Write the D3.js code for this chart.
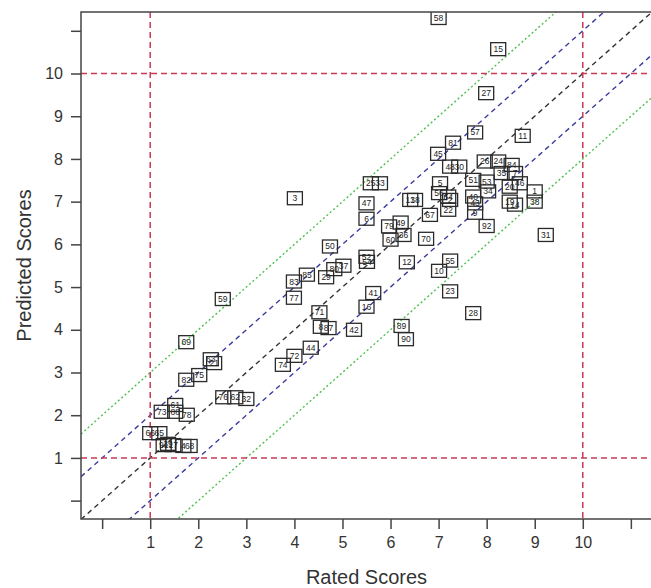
<!DOCTYPE html>
<html>
<head>
<meta charset="utf-8">
<script src="https://cdn.jsdelivr.net/npm/d3@7"></script>
<style>
  body { margin: 0; background: #fff; }
  text { font-family: "Liberation Sans", Arial, sans-serif; }
</style>
</head>
<body>
<svg id="chart"></svg>
<script>
// Labels, rated scores (x) and predicted scores (y).
const labels = [
  "58", "15", "27", "57", "11", "81",
  "45", "48", "30", "5", "56", "64", "2", "22", "67",
  "26", "24", "51", "53", "34", "35", "84", "7", "20", "46",
  "1", "38", "19", "14", "40", "43", "9", "92", "31", "70", "13", "18",
  "3", "25", "33", "47", "6", "79", "49", "36", "60", "50", "52", "54",
  "12", "55", "10", "23", "37", "80", "29", "85", "83", "77", "41", "16",
  "71", "8", "87", "42", "89", "90", "28", "44", "72", "74", "59",
  "69", "63", "21", "75", "82", "76", "62", "32", "73", "61", "88", "78",
  "66", "65", "91", "39", "17", "4", "68"
];
const rated = [
  7.00, 8.24, 7.99, 7.76, 8.75, 7.30,
  6.99, 7.24, 7.43, 7.03, 7.01, 7.20, 7.24, 7.20, 6.82,
  7.96, 8.24, 7.72, 8.00, 8.03, 8.31, 8.52, 8.59, 8.48, 8.69,
  9.00, 9.00, 8.48, 8.59, 7.72, 7.76, 7.76, 8.00, 9.23, 6.74, 6.41, 6.51,
  4.01, 5.59, 5.78, 5.50, 5.50, 5.97, 6.21, 6.27, 6.00, 4.74, 5.50, 5.51,
  6.34, 7.24, 7.01, 7.24, 5.02, 4.83, 4.66, 4.26, 3.99, 3.99, 5.64, 5.50,
  4.52, 4.55, 4.71, 5.24, 6.23, 6.32, 7.72, 4.34, 4.00, 3.76, 2.51,
  1.75, 2.26, 2.33, 2.02, 1.75, 2.52, 2.77, 3.00, 1.24, 1.52, 1.52, 1.76,
  1.00, 1.19, 1.28, 1.37, 1.48, 1.69, 1.82
];
const predicted = [
  11.30, 10.57, 9.54, 8.62, 8.54, 8.38,
  8.12, 7.82, 7.82, 7.43, 7.20, 7.12, 7.04, 6.81, 6.69,
  7.94, 7.94, 7.51, 7.47, 7.24, 7.67, 7.86, 7.67, 7.35, 7.43,
  7.24, 7.00, 7.00, 6.93, 7.12, 6.96, 6.74, 6.43, 6.22, 6.13, 7.04, 7.04,
  7.08, 7.43, 7.43, 6.96, 6.60, 6.42, 6.51, 6.22, 6.11, 5.95, 5.71, 5.59,
  5.58, 5.62, 5.38, 4.90, 5.50, 5.42, 5.23, 5.29, 5.13, 4.75, 4.86, 4.54,
  4.41, 4.07, 4.04, 4.00, 4.09, 3.78, 4.39, 3.58, 3.39, 3.18, 4.72,
  3.71, 3.31, 3.22, 2.94, 2.83, 2.42, 2.42, 2.38, 2.08, 2.24, 2.08, 2.01,
  1.58, 1.58, 1.30, 1.33, 1.30, 1.28, 1.28
];

const tickValues = d3.range(0, 12);
const tickLabels = ["", "1", "2", "3", "4", "5", "6", "7", "8", "9", "10", ""];
const cutoffs = [1, 10];
// offsets of the diagonal bands: y = x + offset
const bandOffsets = [0, -1, 1, -2, 2];
const bandColors = ["#333333", "#3b3b9e", "#3b3b9e", "#4cc24c", "#4cc24c"];

const width = 651;
const height = 588;
const pLeft = 81, pRight = 652, pTop = 12, pBottom = 519;

const svg = d3.select("#chart")
  .attr("width", width)
  .attr("height", height);

const x = d3.scaleLinear().domain([-0.44, 11.44]).range([pLeft, pRight]);
const y = d3.scaleLinear().domain([-0.43, 11.44]).range([pBottom, pTop]);

// Clip everything inside the plot frame.
svg.append("clipPath").attr("id", "plotClip")
  .append("rect")
  .attr("x", pLeft).attr("y", pTop)
  .attr("width", pRight - pLeft).attr("height", pBottom - pTop);

const plot = svg.append("g").attr("clip-path", "url(#plotClip)");

// Diagonal reference lines.
bandOffsets.forEach((off, i) => {
  const x0 = -0.44, x1 = 11.44;
  plot.append("line")
    .attr("x1", x(x0)).attr("y1", y(x0 + off))
    .attr("x2", x(x1)).attr("y2", y(x1 + off))
    .attr("stroke", bandColors[i])
    .attr("stroke-width", 1.4)
    .attr("stroke-dasharray", Math.abs(off) === 2 ? "2,2.5" : "5,4");
});

// Red dashed cut-off lines at 1 and 10.
cutoffs.forEach(c => {
  plot.append("line")
    .attr("x1", x(c)).attr("x2", x(c))
    .attr("y1", pTop).attr("y2", pBottom)
    .attr("stroke", "#c93a55").attr("stroke-width", 1.5)
    .attr("stroke-dasharray", "6,4");
  plot.append("line")
    .attr("x1", pLeft).attr("x2", pRight)
    .attr("y1", y(c)).attr("y2", y(c))
    .attr("stroke", "#c93a55").attr("stroke-width", 1.5)
    .attr("stroke-dasharray", "6,4");
});

// Labelled boxes.
const points = labels.map((l, i) => ({ label: l, rx: rated[i], py: predicted[i] }));

const boxes = plot.selectAll(".pt")
  .data(points)
  .enter()
  .append("g")
  .attr("class", "pt")
  .attr("transform", d => `translate(${x(d.rx)},${y(d.py)})`);

boxes.append("rect")
  .attr("x", -7.5).attr("y", -6.5)
  .attr("width", 15).attr("height", 13)
  .attr("fill", "none")
  .attr("stroke", "#2a2a2a")
  .attr("stroke-width", 1.3);

boxes.append("text")
  .attr("text-anchor", "middle")
  .attr("dy", "0.35em")
  .attr("font-size", 8.5)
  .attr("fill", "#222")
  .text(d => d.label);

// Frame.
svg.append("rect")
  .attr("x", pLeft).attr("y", pTop)
  .attr("width", pRight - pLeft).attr("height", pBottom - pTop)
  .attr("fill", "none")
  .attr("stroke", "#444")
  .attr("stroke-width", 1.5);

// Axes.
const xAxis = d3.axisBottom(x)
  .tickValues(tickValues)
  .tickSize(10)
  .tickPadding(8)
  .tickFormat((d, i) => tickLabels[i]);

const yAxis = d3.axisLeft(y)
  .tickValues(tickValues)
  .tickSize(10)
  .tickPadding(8)
  .tickFormat((d, i) => tickLabels[i]);

const gx = svg.append("g").attr("transform", `translate(0,${pBottom})`).call(xAxis);
const gy = svg.append("g").attr("transform", `translate(${pLeft},0)`).call(yAxis);

[gx, gy].forEach(g => {
  g.select(".domain").remove();
  g.selectAll(".tick line").attr("stroke", "#444").attr("stroke-width", 1.5);
  g.selectAll(".tick text")
    .attr("fill", "#333")
    .attr("font-size", 16)
    .style("font-family", "'Liberation Sans', Arial, sans-serif");
});

// Axis titles.
svg.append("text")
  .attr("x", (pLeft + pRight) / 2)
  .attr("y", 584)
  .attr("text-anchor", "middle")
  .attr("font-size", 20)
  .attr("fill", "#333")
  .text("Rated Scores");

svg.append("text")
  .attr("transform", `translate(31,${(pTop + pBottom) / 2}) rotate(-90)`)
  .attr("text-anchor", "middle")
  .attr("font-size", 20)
  .attr("fill", "#333")
  .text("Predicted Scores");
</script>
</body>
</html>
